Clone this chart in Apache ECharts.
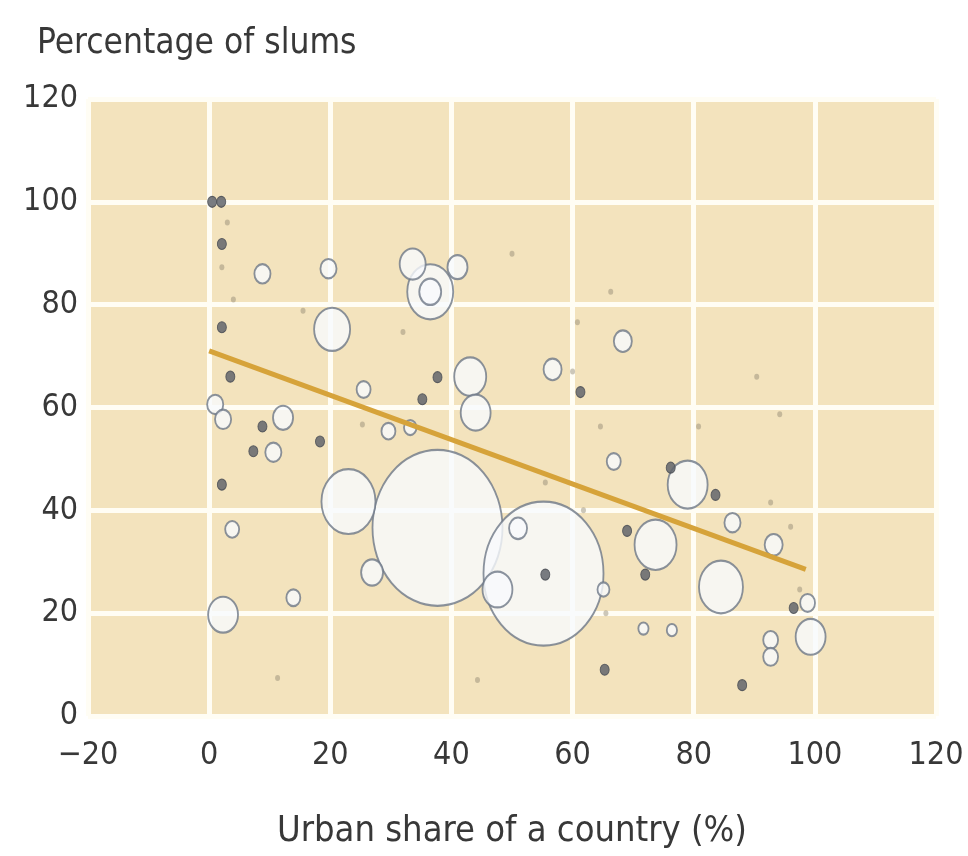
<!DOCTYPE html>
<html>
<head>
<meta charset="utf-8">
<script src="https://cdn.jsdelivr.net/npm/echarts@6/dist/echarts.min.js"></script>
<style>
  html, body { margin: 0; padding: 0; background: #ffffff; }
  #chart { width: 968px; height: 856px; }
</style>
</head>
<body>
<div id="chart"></div>
<script>
// ---- Data ----
const xTicks = [-20, 0, 20, 40, 60, 80, 100, 120];
const yTicks = [0, 20, 40, 60, 80, 100, 120];

// Countries shown as open bubbles: urban share (%), slum share (%), population (millions)
const bubbleX = [37.7, 55.2, 23.0, 36.5, 84.5, 73.7, 79.0, 20.3, 43.1, 44.0, 47.6, 2.3, 99.3, 33.6, 26.9, 36.5,
                 41.0, 12.2, 56.7, 68.3, 93.2, 51.0, 19.7, 8.8, 86.4, 1.0, 2.3, 10.6, 92.7, 92.7, 98.8,
                 25.5, 29.6, 33.2, 66.8, 13.9, 3.8, 65.1, 71.7, 76.4];
const bubbleY = [36.6, 27.7, 41.7, 82.5, 25.1, 33.3, 45.0, 75.2, 66.0, 59.0, 24.6, 19.7, 15.4, 87.9, 27.9, 82.5,
                 87.3, 58.0, 67.4, 72.9, 33.3, 36.5, 87.0, 86.0, 37.6, 60.6, 57.7, 51.3, 14.8, 11.5, 22.0,
                 63.5, 55.4, 56.1, 49.5, 23.0, 36.3, 24.6, 17.0, 16.7];
const bubblePop = [1304, 1111, 225, 163, 149, 136, 123, 100, 79, 69, 69, 69, 69, 52, 37, 37,
                   31, 31, 25, 25, 25, 25, 20, 20, 20, 20, 20, 20, 17, 17, 17,
                   15, 15, 12, 15, 15, 15, 11, 8, 8];

// Small countries shown as dark dots
const dotX = [0.5, 2.0, 2.1, 2.1, 3.5, 7.3, 18.3, 2.1, 37.7, 35.2, 61.3, 55.5, 65.3, 88.0, 76.2, 83.6, 72.0, 96.5, 69.0, 8.8];
const dotY = [100, 100, 91.8, 75.6, 66.0, 51.5, 53.4, 45.0, 65.9, 61.6, 63.0, 27.5, 9.0, 6.0, 48.3, 43.0, 27.5, 21.0, 36.0, 56.3];

// Very small countries shown as faint specks
const speckX = [3.0, 2.1, 15.5, 50.0, 66.3, 60.8, 60.0, 64.6, 80.8, 90.4, 94.2, 92.7, 96.0, 55.5, 61.8, 44.3, 11.3, 25.3, 32.0, 65.5, 97.5, 4.0];
const speckY = [96.0, 87.3, 78.8, 89.9, 82.5, 76.6, 67.0, 56.3, 56.3, 66.0, 58.7, 41.5, 36.8, 45.4, 40.0, 7.0, 7.4, 56.7, 74.7, 20.0, 24.6, 81.0];

// Fitted trend line end points
const trendX = [0, 98.5];
const trendY = [71.0, 28.5];

// ---- Build series data ----
const bubbles = bubbleX.map((x, i) => [x, bubbleY[i], bubblePop[i]]);
const dots = dotX.map((x, i) => [x, dotY[i]]);
const specks = speckX.map((x, i) => [x, speckY[i]]);
const trend = trendX.map((x, i) => [x, trendY[i]]);

const ELLIPSE = 'path://M0,50 A50,50 0 1,1 100,50 A50,50 0 1,1 0,50 Z';
const FONT = '"Liberation Sans Narrow", "DejaVu Sans Condensed", "Arial Narrow", sans-serif';
const K = 3.6;   // bubble diameter per sqrt(population)
const STRETCH = 1.2;

const chart = echarts.init(document.getElementById('chart'), null, { renderer: 'canvas' });
chart.setOption({
  animation: false,
  backgroundColor: '#ffffff',
  title: {
    text: 'Percentage of slums',
    left: 32, top: 21,
    textStyle: { fontFamily: FONT, fontSize: 35, fontWeight: 'normal', color: '#383838' }
  },
  grid: {
    left: 88, right: 32, top: 99, bottom: 140,
    show: true, backgroundColor: '#f3e3bd', borderWidth: 0
  },
  xAxis: {
    type: 'value', min: xTicks[0], max: xTicks[xTicks.length - 1], interval: 20,
    name: 'Urban share of a country (%)',
    nameLocation: 'middle', nameGap: 98,
    nameTextStyle: { fontFamily: FONT, fontSize: 36, color: '#383838' },
    axisLine: { show: false }, axisTick: { show: false },
    axisLabel: { fontFamily: FONT, fontSize: 32, color: '#383838', margin: 24,
      formatter: v => (v < 0 ? '\u2212' + Math.abs(v) : String(v)) },
    splitLine: { show: true, lineStyle: { color: '#fffdf4', width: 5 } }
  },
  yAxis: {
    type: 'value', min: yTicks[0], max: yTicks[yTicks.length - 1], interval: 20,
    axisLine: { show: false }, axisTick: { show: false },
    axisLabel: { fontFamily: FONT, fontSize: 32, color: '#383838', margin: 10 },
    splitLine: { show: true, lineStyle: { color: '#fffdf4', width: 5 } }
  },
  series: [
    {
      type: 'scatter', data: bubbles, symbol: ELLIPSE, z: 2,
      symbolSize: v => { const d = K * Math.sqrt(v[2]); return [d, d * STRETCH]; },
      itemStyle: { color: '#f8fafe', borderColor: '#6e7887', borderWidth: 2 }
    },
    {
      type: 'line', data: trend, z: 3, symbol: 'none', showSymbol: false,
      lineStyle: { color: '#d6a33a', width: 5 }
    },
    {
      type: 'scatter', data: specks, symbol: ELLIPSE, symbolSize: [5, 6], z: 4,
      itemStyle: { color: 'rgba(140,130,110,0.55)' }
    },
    {
      type: 'scatter', data: dots, symbol: ELLIPSE, symbolSize: [9, 11], z: 5,
      itemStyle: { color: '#62656c', borderColor: '#4a4d55', borderWidth: 1, opacity: 0.85 }
    }
  ]
});
</script>
</body>
</html>
